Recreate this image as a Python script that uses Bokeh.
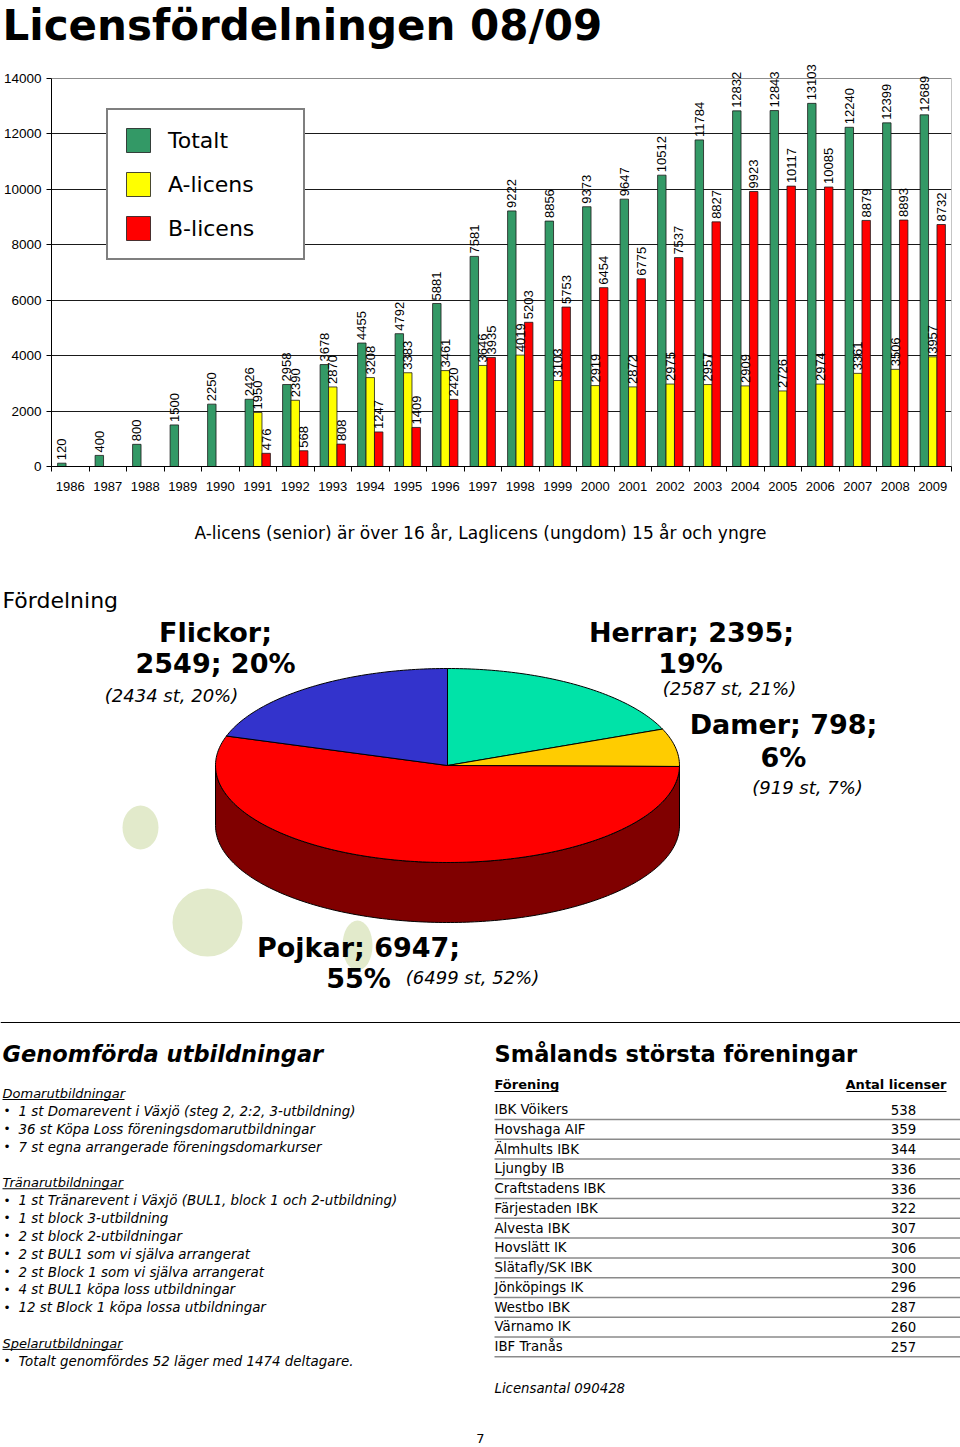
import math
from bokeh.plotting import figure
from bokeh.models import Range1d, FixedTicker, Legend, LegendItem
from bokeh.core.properties import value
from bokeh.embed import file_html
from bokeh.resources import INLINE

# ---------------- data ----------------
TITLE = "Licensfördelningen 08/09"
years = [1986, 1987, 1988, 1989, 1990, 1991, 1992, 1993, 1994, 1995, 1996, 1997,
         1998, 1999, 2000, 2001, 2002, 2003, 2004, 2005, 2006, 2007, 2008, 2009]
totalt = [120, 400, 800, 1500, 2250, 2426, 2958, 3678, 4455, 4792, 5881, 7581,
          9222, 8856, 9373, 9647, 10512, 11784, 12832, 12843, 13103, 12240, 12399, 12689]
a_licens = [None, None, None, None, None, 1950, 2390, 2870, 3208, 3383, 3461, 3646,
            4019, 3103, 2919, 2872, 2975, 2957, 2909, 2726, 2974, 3361, 3506, 3957]
b_licens = [None, None, None, None, None, 476, 568, 808, 1247, 1409, 2420, 3935,
            5203, 5753, 6454, 6775, 7537, 8827, 9923, 10117, 10085, 8879, 8893, 8732]
series_names = ["Totalt", "A-licens", "B-licens"]
series_colors = ["#339966", "#FFFF00", "#FF0000"]
y_ticks = [0, 2000, 4000, 6000, 8000, 10000, 12000, 14000]

caption = "A-licens (senior) är över 16 år, Laglicens (ungdom) 15 år och yngre"
pie_heading = "Fördelning"
pie_names = ["Herrar", "Damer", "Pojkar", "Flickor"]
pie_values = [2395, 798, 6947, 2549]
pie_prev = ["(2587 st, 21%)", "(919 st, 7%)", "(6499 st, 52%)", "(2434 st, 20%)"]
pie_colors = ["#00E3A8", "#FFCC00", "#FF0000", "#3333CC"]
pie_side_colors = ["#007054", "#806600", "#800000", "#1A1A66"]

edu_heading = "Genomförda utbildningar"
edu_sections = [
    ("Domarutbildningar", [
        "1 st Domarevent i Växjö (steg 2, 2:2, 3-utbildning)",
        "36 st Köpa Loss föreningsdomarutbildningar",
        "7 st egna arrangerade föreningsdomarkurser"]),
    ("Tränarutbildningar", [
        "1 st Tränarevent i Växjö (BUL1, block 1 och 2-utbildning)",
        "1 st block 3-utbildning",
        "2 st block 2-utbildningar",
        "2 st BUL1 som vi själva arrangerat",
        "2 st Block 1 som vi själva arrangerat",
        "4 st BUL1 köpa loss utbildningar",
        "12 st Block 1 köpa lossa utbildningar"]),
    ("Spelarutbildningar", [
        "Totalt genomfördes 52 läger med 1474 deltagare."]),
]
edu_underline_w = [122, 121, 120]

club_heading = "Smålands största föreningar"
club_cols = ["Förening", "Antal licenser"]
clubs = ["IBK Vöikers", "Hovshaga AIF", "Älmhults IBK", "Ljungby IB", "Craftstadens IBK",
         "Färjestaden IBK", "Alvesta IBK", "Hovslätt IK", "Slätafly/SK IBK", "Jönköpings IK",
         "Westbo IBK", "Värnamo IK", "IBF Tranås"]
club_licenses = [538, 359, 344, 336, 336, 322, 307, 306, 300, 296, 287, 260, 257]
club_note = "Licensantal 090428"
page_no = "7"

VERD = value("DejaVu Sans")
ARIAL = value("Liberation Sans")
W = 960

# ---------------- title ----------------
H0 = 56
p0 = figure(width=W, height=H0, x_range=Range1d(0, W), y_range=Range1d(H0, 0),
            output_backend="svg", toolbar_location=None, min_border=0,
            x_axis_location=None, y_axis_location=None)
p0.outline_line_color = None
p0.grid.visible = False
p0.text(x=[2], y=[25], text=[TITLE], text_font=VERD, text_font_style="bold",
        text_font_size="42px", text_baseline="middle", text_align="left", text_color="black")

# ---------------- bar chart ----------------
n = len(years)
idx = list(range(n))
H1 = 454
p1 = figure(width=W, height=H1, x_range=Range1d(-0.5, n - 0.5), y_range=Range1d(0, 14794),
            output_backend="svg", toolbar_location=None,
            min_border_top=0, min_border_left=50, min_border_right=9, min_border_bottom=44)
p1.outline_line_color = None
p1.background_fill_color = "white"

p1.xgrid.visible = False
p1.ygrid.ticker = FixedTicker(ticks=y_ticks[1:-1])
p1.ygrid.grid_line_color = "#1a1a1a"
p1.ygrid.grid_line_width = 1

# frame lines (top at 14000, right border)
p1.segment(x0=[-0.5], y0=[y_ticks[-1]], x1=[n - 0.5], y1=[y_ticks[-1]], line_color="#8c8c8c", line_width=1)
p1.segment(x0=[n - 0.5], y0=[0], x1=[n - 0.5], y1=[y_ticks[-1]], line_color="#8c8c8c", line_width=1)

bw = 0.225
offsets = [-bw, 0.0, bw]
renderers = []
label_sets = []
for vals, col, off in zip([totalt, a_licens, b_licens], series_colors, offsets):
    xs = [i + off for i, v in zip(idx, vals) if v is not None]
    tops = [v for v in vals if v is not None]
    r = p1.vbar(x=xs, top=tops, width=bw, fill_color=col, line_color="#1a1a1a", line_width=0.8)
    renderers.append(r)
    label_sets.append((xs, tops))
for xs, tops in label_sets:
    p1.text(x=xs, y=tops, text=[str(v) for v in tops], angle=math.pi / 2,
            text_align="left", text_baseline="middle", y_offset=-3,
            text_font=ARIAL, text_font_size="13px", text_color="black")

p1.xaxis.ticker = FixedTicker(ticks=idx, minor_ticks=[i - 0.5 for i in range(n + 1)])
p1.xaxis.major_label_overrides = {i: str(y) for i, y in enumerate(years)}
p1.xaxis.major_tick_out = 0
p1.xaxis.major_tick_in = 0
p1.xaxis.minor_tick_out = 5
p1.xaxis.minor_tick_in = 0
p1.xaxis.minor_tick_line_color = "black"
p1.xaxis.major_label_standoff = 10
p1.xaxis.axis_line_color = "black"
p1.xaxis.major_label_text_font = "Liberation Sans"
p1.xaxis.major_label_text_font_size = "13px"
p1.xaxis.major_label_text_color = "black"

p1.yaxis.ticker = FixedTicker(ticks=y_ticks)
p1.yaxis.bounds = (0, y_ticks[-1])
p1.yaxis.major_tick_out = 5
p1.yaxis.major_tick_in = 0
p1.yaxis.minor_tick_out = 0
p1.yaxis.major_tick_line_color = "black"
p1.yaxis.axis_line_color = "black"
p1.yaxis.major_label_standoff = 5
p1.yaxis.major_label_text_font = "Liberation Sans"
p1.yaxis.major_label_text_font_size = "13.5px"
p1.yaxis.major_label_text_color = "black"

legend = Legend(items=[LegendItem(label=nm, renderers=[r]) for nm, r in zip(series_names, renderers)],
                location=(55, 206), margin=0, padding=15, spacing=14,
                glyph_width=30, glyph_height=30, label_standoff=15, label_width=120,
                label_text_font="DejaVu Sans", label_text_font_size="22px",
                label_text_color="black",
                border_line_color="black", border_line_width=2,
                background_fill_color="white", background_fill_alpha=1.0)
p1.add_layout(legend)

# ---------------- lower page (coordinates = page pixels) ----------------
Y2_TOP = H0 + H1
H2 = 1447 - Y2_TOP
p2 = figure(width=W, height=H2, x_range=Range1d(0, W), y_range=Range1d(1447, Y2_TOP),
            output_backend="svg", toolbar_location=None, min_border=0,
            x_axis_location=None, y_axis_location=None)
p2.outline_line_color = None
p2.grid.visible = False

# faint decorative leaves
p2.ellipse(x=[140, 207, 357], y=[827, 922, 945], width=[36, 70, 30], height=[44, 68, 50],
           fill_color="#e2eacb", line_color=None)

p2.text(x=[480], y=[532], text=[caption], text_font=VERD, text_font_size="17px",
        text_align="center", text_baseline="middle", text_color="black")
p2.text(x=[2], y=[600], text=[pie_heading], text_font=VERD, text_font_size="22px",
        text_align="left", text_baseline="middle", text_color="black")

# pie (3D ellipse)
cx, cy, rx, ry, depth = 447, 765, 232, 97, 60
tot = sum(pie_values)
spans = []
a = 90.0
for v in pie_values:
    sweep = v / tot * 360.0
    spans.append((a, a - sweep))
    a -= sweep


def arc(a_from, a_to, dy=0.0):
    steps = max(2, int(abs(a_to - a_from)) + 1)
    xs, ys = [], []
    for k in range(steps + 1):
        t = math.radians(a_from + (a_to - a_from) * k / steps)
        xs.append(cx + rx * math.cos(t))
        ys.append(cy - ry * math.sin(t) + dy)
    return xs, ys


side_xs, side_ys, side_cols = [], [], []
for (a0, a1), sc in zip(spans, pie_side_colors):
    for f0, f1 in [(-180.0, 0.0), (-540.0, -360.0), (180.0, 360.0)]:
        hi = min(a0, f1)
        lo = max(a1, f0)
        if hi - lo > 0.01:
            tx, ty = arc(hi, lo)
            bx, by = arc(lo, hi, depth)
            side_xs.append(tx + bx)
            side_ys.append(ty + by)
            side_cols.append(sc)
p2.patches(xs=side_xs, ys=side_ys, fill_color=side_cols, line_color="black", line_width=1)

top_xs, top_ys = [], []
for a0, a1 in spans:
    ax_, ay_ = arc(a0, a1)
    top_xs.append([cx] + ax_)
    top_ys.append([cy] + ay_)
p2.patches(xs=top_xs, ys=top_ys, fill_color=pie_colors, line_color="black", line_width=1)

label_split = [2, 2, 2, 1]
label_pos = [((691, 632), (690, 663), (729, 688)),
             ((783, 724), (783, 757), (807, 787)),
             ((358, 947), (358, 978), (472, 977)),
             ((215, 632), (215, 663), (171, 695))]
for nm, v, prev, k, pos in zip(pie_names, pie_values, pie_prev, label_split, label_pos):
    pct = round(v / tot * 100)
    parts = [f"{nm};", f"{v};", f"{pct}%"]
    l1 = " ".join(parts[:k])
    l2 = " ".join(parts[k:])
    p2.text(x=[pos[0][0], pos[1][0]], y=[pos[0][1], pos[1][1]], text=[l1, l2],
            text_font=VERD, text_font_style="bold", text_font_size="27px",
            text_align="center", text_baseline="middle", text_color="black")
    p2.text(x=[pos[2][0]], y=[pos[2][1]], text=[prev], text_font=VERD, text_font_style="italic",
            text_font_size="18px", text_align="center", text_baseline="middle", text_color="black")

# separator line
p2.segment(x0=[0], y0=[1022], x1=[W], y1=[1022], line_color="black", line_width=1.2)

# left column
p2.text(x=[2], y=[1053], text=[edu_heading], text_font=VERD, text_font_style="bold italic",
        text_font_size="22.5px", text_align="left", text_baseline="middle", text_color="black")
line_h = 17.85
yy = 1093.0
for (head, items), uw in zip(edu_sections, edu_underline_w):
    p2.text(x=[2], y=[yy], text=[head], text_font=VERD, text_font_style="italic",
            text_font_size="13px", text_align="left", text_baseline="middle", text_color="black")
    p2.segment(x0=[2], y0=[yy + 6], x1=[2 + uw], y1=[yy + 6], line_color="black", line_width=1)
    yy += line_h
    for it in items:
        p2.text(x=[3], y=[yy], text=["•"], text_font=VERD, text_font_size="12px",
                text_align="left", text_baseline="middle", text_color="black")
        p2.text(x=[18], y=[yy], text=[it], text_font=VERD, text_font_style="italic",
                text_font_size="13.4px", text_align="left", text_baseline="middle", text_color="black")
        yy += line_h
    yy += line_h

# right column
p2.text(x=[494], y=[1053], text=[club_heading], text_font=VERD, text_font_style="bold",
        text_font_size="22.5px", text_align="left", text_baseline="middle", text_color="black")
p2.text(x=[494], y=[1084], text=[club_cols[0]], text_font=VERD, text_font_style="bold",
        text_font_size="13px", text_align="left", text_baseline="middle", text_color="black")
p2.text(x=[946], y=[1084], text=[club_cols[1]], text_font=VERD, text_font_style="bold",
        text_font_size="13px", text_align="right", text_baseline="middle", text_color="black")
p2.segment(x0=[494, 846], y0=[1091, 1091], x1=[558, 946], y1=[1091, 1091], line_color="black", line_width=1)
row_y = [1109 + 19.77 * i for i in range(len(clubs))]
p2.text(x=[494] * len(clubs), y=row_y, text=clubs, text_font=VERD, text_font_size="13.3px",
        text_align="left", text_baseline="middle", text_color="black")
p2.text(x=[903] * len(clubs), y=row_y, text=[str(v) for v in club_licenses], text_font=VERD,
        text_font_size="13.3px", text_align="center", text_baseline="middle", text_color="black")
p2.segment(x0=[494] * len(clubs), y0=[y + 10 for y in row_y], x1=[W] * len(clubs),
           y1=[y + 10 for y in row_y], line_color="#8a8a8a", line_width=1.5)
p2.text(x=[494], y=[1388], text=[club_note], text_font=VERD, text_font_style="italic",
        text_font_size="13.3px", text_align="left", text_baseline="middle", text_color="black")
p2.text(x=[480], y=[1438], text=[page_no], text_font=VERD, text_font_size="13px",
        text_align="center", text_baseline="middle", text_color="black")

open("out.html", "w").write(file_html([p0, p1, p2], INLINE))
